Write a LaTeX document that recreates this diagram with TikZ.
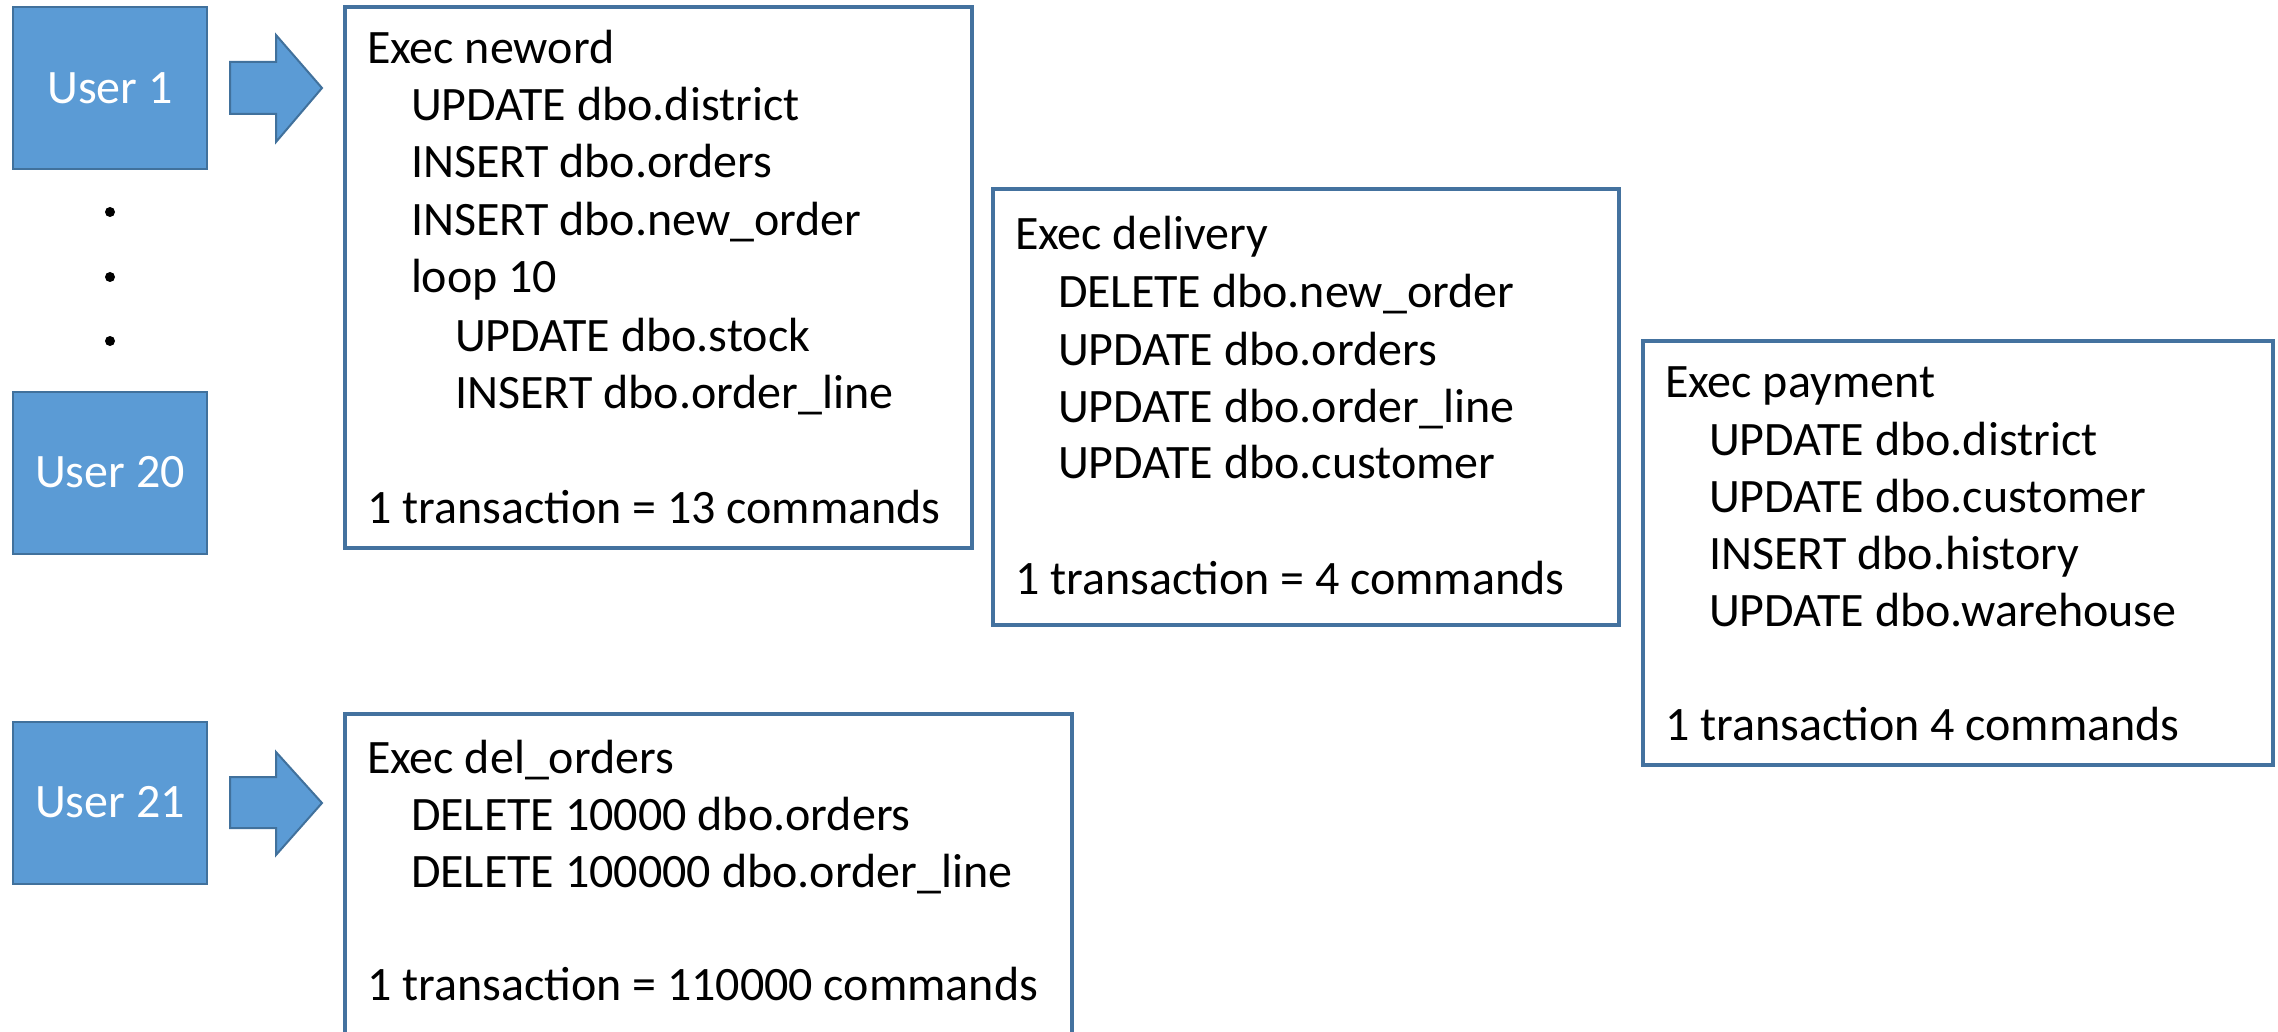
\documentclass[tikz,border=0pt]{standalone}
\usepackage{fontspec}
\setmainfont{Carlito}
\definecolor{ufill}{HTML}{5B9BD5}
\definecolor{uedge}{HTML}{41719C}
\definecolor{bedge}{HTML}{44729F}
\newcommand\bigtxt{\fontsize{48}{57}\selectfont}
\begin{document}
\begin{tikzpicture}[x=1pt,y=-1pt,
  user/.style={draw=uedge, fill=ufill, line width=2pt, minimum width=194pt, minimum height=162pt, inner sep=0, outer sep=0, text=white, font=\bigtxt},
  proc/.style={draw=bedge, line width=4.5pt, inner sep=0, outer sep=0, anchor=north west},
  ln/.style={anchor=base west, inner sep=0, outer sep=0, font=\bigtxt},
  blockarrow/.style={draw=uedge, fill=ufill, line width=2pt, line join=miter},
  dotmark/.style={fill=black}]
\useasboundingbox (0,0) rectangle (2278,1032);
\clip (0,0) rectangle (2278,1032);

% users
\node[user] (u1) at (110,88.5) {User 1};
\node[user] (u20) at (110,472.5) {User 20};
\node[user] (u21) at (110,802.5) {User 21};
\fill[dotmark] (110,212) circle (5pt);
\fill[dotmark] (110,277) circle (5pt);
\fill[dotmark] (110,341) circle (5pt);

% process boxes
\node[proc, minimum width=627pt, minimum height=541pt] (neword) at (345,7) {};
\node[proc, minimum width=626pt, minimum height=436pt] (delivery) at (993,189) {};
\node[proc, minimum width=630pt, minimum height=424pt] (payment) at (1643,341) {};
\node[proc, minimum width=727pt, minimum height=360pt] (delorders) at (345,714) {};

% block arrows
\coordinate (a1) at (230,88);
\draw[blockarrow] (a1) ++(0,-26) -- ++(46,0) -- ++(0,-27) -- (322,88) -- (276,142) -- ++(0,-28) -- ++(-46,0) -- cycle;
\coordinate (a21) at (230,803);
\draw[blockarrow] (a21) ++(0,-26) -- ++(46,0) -- ++(0,-25) -- (322,803) -- (276,855) -- ++(0,-27) -- ++(-46,0) -- cycle;

% neword text
\node[ln] (n0) at (367,64) {Exec neword};
\node[ln] (n1) at (411,121) {UPDATE dbo.district};
\node[ln] (n2) at (411,178) {INSERT dbo.orders};
\node[ln] (n3) at (411,236) {INSERT dbo.new\_order};
\node[ln] (n4) at (411,293) {loop 10};
\node[ln] (n5) at (455,351) {UPDATE dbo.stock};
\node[ln] (n6) at (455,408) {INSERT dbo.order\_line};
\node[ln] (n7) at (367,523) {1 transaction = 13 commands};

% delivery text
\node[ln] (d0) at (1015,250) {Exec delivery};
\node[ln] (d1) at (1058,308) {DELETE dbo.new\_order};
\node[ln] (d2) at (1058,365) {UPDATE dbo.orders};
\node[ln] (d3) at (1058,422) {UPDATE dbo.order\_line};
\node[ln] (d4) at (1058,478) {UPDATE dbo.customer};
\node[ln] (d5) at (1015,594) {1 transaction = 4 commands};

% payment text
\node[ln] (p0) at (1665,397) {Exec payment};
\node[ln] (p1) at (1709,455) {UPDATE dbo.district};
\node[ln] (p2) at (1709,512) {UPDATE dbo.customer};
\node[ln] (p3) at (1709,569) {INSERT dbo.history};
\node[ln] (p4) at (1709,626) {UPDATE dbo.warehouse};
\node[ln] (p5) at (1665,740) {1 transaction 4 commands};

% del_orders text
\node[ln] (o0) at (367,773) {Exec del\_orders};
\node[ln] (o1) at (411,830) {DELETE 10000 dbo.orders};
\node[ln] (o2) at (411,887) {DELETE 100000 dbo.order\_line};
\node[ln] (o3) at (367,1000) {1 transaction = 110000 commands};
\end{tikzpicture}
\end{document}
